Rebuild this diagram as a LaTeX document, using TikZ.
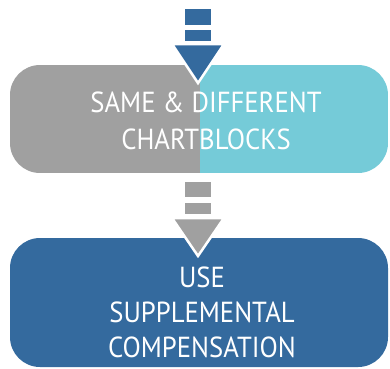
\documentclass[tikz,border=0pt]{standalone}
\usepackage{fontspec}
\setmainfont[FakeStretch=0.92]{PT Sans}
\definecolor{cgray}{HTML}{A0A0A0}
\definecolor{ccyan}{HTML}{75CBD8}
\definecolor{cblue}{HTML}{346A9E}
\begin{document}
\begin{tikzpicture}[x=1pt,y=-1pt,
  boxtext/.style={text=white,font=\fontsize{29}{37}\selectfont,align=center,inner sep=0pt},
  bar/.style={inner sep=0pt,minimum width=26pt},
  tri/.style={draw=white,line width=2.5pt,line join=miter}]
\useasboundingbox (0,0) rectangle (390,368);
% top box
\begin{scope}
\clip[rounded corners=30pt] (10,65) rectangle (388,173);
\fill[cgray] (10,65) rectangle (200,173);
\fill[ccyan] (200,65) rectangle (388,173);
\end{scope}
\node[boxtext] (t1) at (206,121) {SAME \& DIFFERENT\\CHARTBLOCKS};
% bottom box
\fill[cblue,rounded corners=30pt] (10,238) rectangle (388,367);
\node[boxtext,font=\fontsize{29}{35}\selectfont] (t2) at (202,312) {USE\\SUPPLEMENTAL\\COMPENSATION};
% arrow 1
\node[bar,fill=cblue,minimum height=16pt] (a1) at (198,17) {};
\node[bar,fill=cblue,minimum height=11pt] (a2) at (198,35.5) {};
\fill[cblue,tri] (172,44) -- (224,44) -- (198,83) -- cycle;
% arrow 2
\node[bar,fill=cgray,minimum height=15pt] (b1) at (198,189.5) {};
\node[bar,fill=cgray,minimum height=11pt] (b2) at (198,208.5) {};
\fill[cgray,tri] (172,218) -- (224,218) -- (198,256) -- cycle;
\end{tikzpicture}
\end{document}
